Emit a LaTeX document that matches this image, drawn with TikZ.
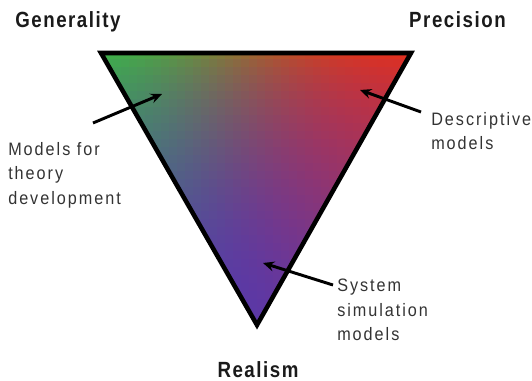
\documentclass[tikz,border=0pt]{standalone}
\usepackage{fontspec}
\setmainfont{Liberation Sans}
\newfontfamily\labelfont[FakeStretch=0.9,LetterSpace=11]{Liberation Sans}
\newfontfamily\titlefont[FakeStretch=0.85,LetterSpace=7]{Liberation Sans Bold}
\usetikzlibrary{arrows.meta}
\definecolor{labelgray}{HTML}{333333}
\definecolor{titleblack}{HTML}{1A1A1A}
\tikzset{
  lbl/.style={inner sep=0pt, align=left, text=labelgray,
    font=\labelfont\fontsize{13.5pt}{18.4pt}\selectfont},
  ttl/.style={inner sep=0pt, text=titleblack,
    font=\titlefont\fontsize{16.5pt}{19pt}\selectfont},
  pointer/.style={line width=2.2pt, draw=black,
    -{Stealth[length=8.5pt,width=7.5pt,inset=3pt]}},
  frame/.style={line width=3.4pt, line join=miter, draw=black}
}
\begin{document}
\begin{tikzpicture}[x=0.75pt,y=-0.75pt]
\fill[white] (0,0) rectangle (532,381);
\useasboundingbox (0,0) rectangle (532,381);
\coordinate (G) at (101,53);
\coordinate (R) at (411,53);
\coordinate (B) at (257,325);
\begin{scope}
\clip (G) -- (R) -- (B) -- cycle;
\foreach \i in {0,...,39}{
  \foreach \j in {0,...,34}{
    \pgfmathsetmacro\xc{97+8*\i+4}
    \pgfmathsetmacro\yc{51+8*\j+4}
    \pgfmathsetmacro\lb{max(0.001,min(1,(\yc-53)/272))}
    \pgfmathsetmacro\lr{max(0.001,min(1,(\xc-101-156*\lb)/310))}
    \pgfmathsetmacro\lg{max(0.001,1-\lb-\lr)}
    \pgfmathsetmacro\wg{pow(\lg,2)}
    \pgfmathsetmacro\wr{pow(\lr,1.4)}
    \pgfmathsetmacro\wb{pow(\lb,0.7)}
    \pgfmathsetmacro\ws{\wg+\wr+\wb}
    \pgfmathtruncatemacro\cR{min(255,(\wg*62+\wr*228+\wb*92)/\ws)}
    \pgfmathtruncatemacro\cG{min(255,(\wg*178+\wr*48+\wb*56)/\ws)}
    \pgfmathtruncatemacro\cB{min(255,(\wg*72+\wr*28+\wb*166)/\ws)}
    \definecolor{cellc}{RGB}{\cR,\cG,\cB}
    \fill[cellc] (\xc-4.4,\yc-4.4) rectangle (\xc+4.4,\yc+4.4);
  }
}
\end{scope}
\draw[frame] (G) -- (R) -- (B) -- cycle;

\node[ttl, anchor=base west] (gen) at (15,28) {Generality};
\node[ttl, anchor=base east] (prec) at (506,28) {Precision};
\node[ttl, anchor=base] (real) at (258,377) {Realism};

\node[lbl, anchor=north west] (theory) at (8,142) {Models for\\theory\\development};
\node[lbl, anchor=north west] (desc) at (431,112) {Descriptive\\models};
\node[lbl, anchor=north west] (sys) at (337,279) {System\\simulation\\models};

\coordinate (theorytail) at (93,123);
\coordinate (theoryhead) at (162,94);
\coordinate (desctail) at (421,112);
\coordinate (deschead) at (360,90);
\coordinate (systail) at (333,285);
\coordinate (syshead) at (263,263);

\draw[pointer] (theorytail) -- (theoryhead);
\draw[pointer] (desctail) -- (deschead);
\draw[pointer] (systail) -- (syshead);
\end{tikzpicture}
\end{document}
